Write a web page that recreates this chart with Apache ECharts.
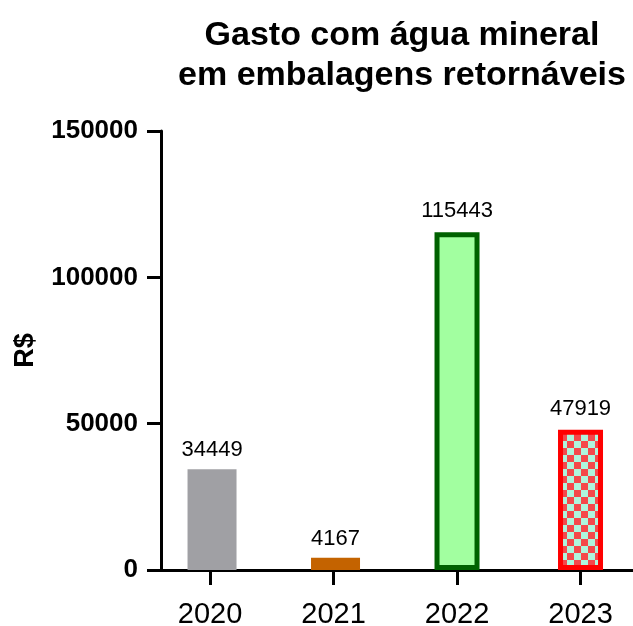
<!DOCTYPE html>
<html>
<head>
<meta charset="utf-8">
<script src="https://cdn.jsdelivr.net/npm/echarts@6/dist/echarts.min.js"></script>
<style>
html,body{margin:0;padding:0;background:#fff;}
#chart{width:633px;height:626px;}
</style>
</head>
<body>
<div id="chart"></div>
<script>
const titleText = 'Gasto com água mineral\nem embalagens retornáveis';
const yAxisName = 'R$';
const categories = ['2020', '2021', '2022', '2023'];
const values = [34449, 4167, 115443, 47919];
const yTicks = [0, 50000, 100000, 150000];

const FONT = '"Liberation Sans", Arial, Helvetica, sans-serif';

function checker() {
  const c = document.createElement('canvas');
  const s = 7;
  c.width = s * 2; c.height = s * 2;
  const g = c.getContext('2d');
  g.fillStyle = '#AEF5DD';
  g.fillRect(0, 0, s * 2, s * 2);
  g.fillStyle = '#F5474B';
  g.fillRect(0, 0, s, s);
  g.fillRect(s, s, s, s);
  return c;
}

const styles = [
  { color: '#A0A0A4', borderWidth: 0 },
  { color: '#C46300', borderWidth: 0 },
  { color: '#A2FFA0', borderColor: '#006100', borderWidth: 5 },
  { color: { image: checker(), repeat: 'repeat' }, borderColor: '#FF0000', borderWidth: 5 }
];

const bordered = [false, false, true, true];

function seriesData(withBorder) {
  return values.map((v, i) => bordered[i] === withBorder
    ? { value: [i, v], itemStyle: styles[i] }
    : { value: [i, '-'] });
}

const labelOpt = {
  show: true,
  position: 'top',
  distance: 8,
  fontFamily: FONT,
  fontSize: 22,
  color: '#000',
  formatter: p => String(p.value[1])
};

const chart = echarts.init(document.getElementById('chart'), null, { renderer: 'canvas' });
chart.setOption({
  animation: false,
  backgroundColor: '#ffffff',
  title: {
    text: titleText,
    left: 397,
    textAlign: 'center',
    top: 11,
    textStyle: { fontFamily: FONT, fontSize: 34, fontWeight: 'bold', color: '#000', lineHeight: 40 }
  },
  grid: { left: 161, right: 0, top: 131, bottom: 56, outerBoundsMode: 'none', containLabel: false },
  xAxis: {
    type: 'value',
    min: -0.397,
    max: 3.425,
    axisLine: { show: true, onZero: false, lineStyle: { color: '#000', width: 3 } },
    axisTick: { show: true, length: 15, lineStyle: { color: '#000', width: 3 }, customValues: categories.map((c, i) => i) },
    axisLabel: {
      show: true,
      customValues: categories.map((c, i) => i),
      formatter: v => categories[Math.round(v)],
      fontFamily: FONT, fontSize: 29, color: '#000', margin: 30
    },
    splitLine: { show: false }
  },
  yAxis: {
    type: 'value',
    min: 0,
    max: 150000,
    interval: 50000,
    name: yAxisName,
    nameLocation: 'middle',
    nameGap: 122,
    nameRotate: 90,
    nameTextStyle: { fontFamily: FONT, fontSize: 27, fontWeight: 'bold', color: '#000' },
    axisLine: { show: true, onZero: false, lineStyle: { color: '#000', width: 3 } },
    axisTick: { show: true, length: 14, lineStyle: { color: '#000', width: 3 } },
    axisLabel: {
      fontFamily: FONT, fontSize: 26, fontWeight: 'bold', color: '#000', margin: 23,
      formatter: v => (yTicks.indexOf(v) >= 0 ? String(v) : '')
    },
    splitLine: { show: false }
  },
  series: [{
    type: 'bar',
    barWidth: 49,
    barGap: '-100%',
    data: seriesData(false),
    label: labelOpt
  }, {
    type: 'bar',
    barWidth: 45,
    barGap: '-100%',
    data: seriesData(true),
    label: Object.assign({}, labelOpt, { distance: 10 })
  }]
});
</script>
</body>
</html>
